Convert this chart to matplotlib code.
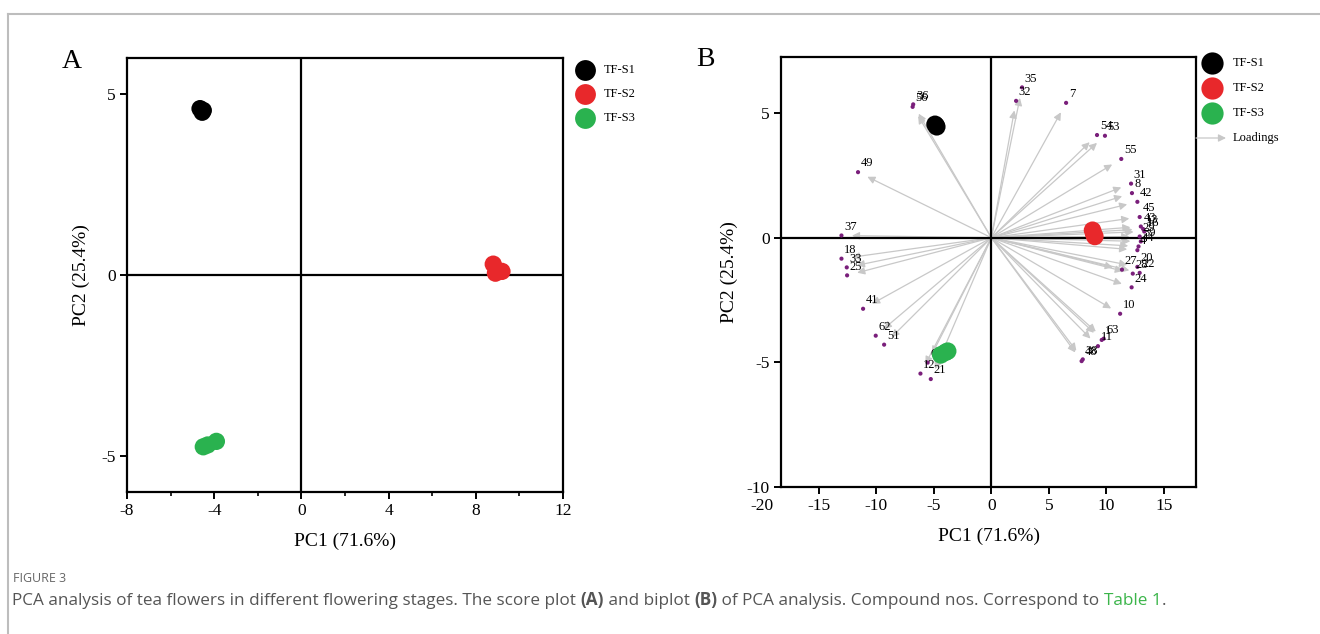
import matplotlib
matplotlib.use("Agg")
import matplotlib.pyplot as plt
import matplotlib.transforms as mtransforms
from matplotlib.lines import Line2D
from matplotlib.patches import FancyArrowPatch
from matplotlib.text import Annotation

plt.rcParams['font.family'] = ['Liberation Serif', 'DejaVu Serif']
plt.rcParams['axes.unicode_minus'] = False

W, H = 1320, 634

# ---------------- data ----------------
groups = ["TF-S1", "TF-S2", "TF-S3"]
group_colors = ["#000000", "#e8282b", "#2ab24f"]

# Panel A scores
a_s1_x = [-4.65, -4.55, -4.5]
a_s1_y = [4.6, 4.5, 4.55]
a_s2_x = [8.8, 8.9, 9.2]
a_s2_y = [0.3, 0.05, 0.1]
a_s3_x = [-4.5, -4.3, -3.9]
a_s3_y = [-4.75, -4.7, -4.6]

# Panel B scores
b_s1_x = [-4.9, -4.75, -4.8]
b_s1_y = [4.55, 4.45, 4.5]
b_s2_x = [8.8, 9.0, 8.9]
b_s2_y = [0.3, 0.05, 0.15]
b_s3_x = [-4.4, -4.0, -3.8]
b_s3_y = [-4.7, -4.6, -4.55]

# Panel B loadings
load_labels = ["35", "32", "7", "54", "53", "55", "31", "8", "42", "45", "43",
               "13", "16", "29", "39", "44", "4", "27", "20", "28", "22", "24",
               "10", "63", "1", "11", "38", "48",
               "36", "56", "49", "37", "18", "33", "25", "41", "62", "51",
               "61", "12", "21"]
load_x = [2.67, 2.15, 6.5, 9.19, 9.88, 11.3, 12.15, 12.23, 12.7, 12.9, 13.0,
          13.2, 13.3, 12.9, 13.0, 12.8, 12.7, 11.36, 12.7, 12.3, 12.9, 12.2,
          11.2, 9.77, 9.6, 9.27, 7.95, 7.85,
          -6.8, -6.85, -11.6, -13.04, -13.04, -12.58, -12.55, -11.16, -10.06, -9.33,
          -5.54, -6.17, -5.27]
load_y = [6.03, 5.49, 5.41, 4.12, 4.09, 3.16, 2.17, 1.79, 1.44, 0.83, 0.45,
          0.35, 0.25, 0.05, -0.15, -0.35, -0.5, -1.28, -1.17, -1.44, -1.41, -1.99,
          -3.05, -4.05, -4.1, -4.35, -4.88, -4.95,
          5.35, 5.25, 2.63, 0.09, -0.84, -1.19, -1.51, -2.85, -3.93, -4.29,
          -5.01, -5.45, -5.67]

b_xticks = [-15, -10, -5, 0, 5, 10, 15]
b_outer_tick = -20

caption_title = "FIGURE 3"
caption_pieces = [
    ("PCA analysis of tea flowers in different flowering stages. The score plot ", "normal", "#555555"),
    ("(A)", "bold", "#555555"),
    (" and biplot ", "normal", "#555555"),
    ("(B)", "bold", "#555555"),
    (" of PCA analysis. Compound nos. Correspond to ", "normal", "#555555"),
    ("Table 1", "normal", "#3bb54a"),
    (".", "normal", "#555555"),
]


def fx(px):
    return px / W


def fy(py):
    return 1 - py / H


fig = plt.figure(figsize=(W / 100, H / 100), dpi=100)

# page frame
fig.add_artist(Line2D([fx(8), fx(W)], [fy(14), fy(14)], color="#bdbdbd", lw=1.5))
fig.add_artist(Line2D([fx(8), fx(8)], [fy(14), fy(H)], color="#bdbdbd", lw=1.5))


def style_axes(ax):
    for s in ax.spines.values():
        s.set_linewidth(1.6)
        s.set_color("black")
    ax.tick_params(direction="out", length=5, width=1.4, labelsize=12.5, pad=3)
    ax.tick_params(which="minor", direction="out", length=3, width=1.2)


# ---------------- Panel A ----------------
axA = fig.add_axes([fx(127), fy(492), (563 - 127) / W, (492 - 58) / H])
style_axes(axA)
axA.set_xlim(-8, 12)
axA.set_ylim(-6, 6)
axA.set_xticks([-8, -4, 0, 4, 8, 12])
axA.set_xticks([-6, -2, 2, 6, 10], minor=True)
axA.set_yticks([5, 0, -5])
axA.axhline(0, color="black", lw=1.6, zorder=1)
axA.axvline(0, color="black", lw=1.6, zorder=1)
for xs, ys, c in [(a_s1_x, a_s1_y, group_colors[0]),
                  (a_s2_x, a_s2_y, group_colors[1]),
                  (a_s3_x, a_s3_y, group_colors[2])]:
    axA.scatter(xs, ys, s=155, color=c, edgecolors="none", zorder=3)
axA.set_xlabel("PC1 (71.6%)", fontsize=14, labelpad=10)
axA.set_ylabel("PC2 (25.4%)", fontsize=14, labelpad=8)
fig.text(fx(62), fy(62), "A", fontsize=20, va="center", ha="left")

# legend A (manual)
for i, (g, c) in enumerate(zip(groups, group_colors)):
    yy = 70 + 24 * i
    fig.add_artist(Line2D([fx(585)], [fy(yy)], marker="o", markersize=15,
                          color=c, markeredgewidth=0, linestyle="none"))
    fig.text(fx(604), fy(yy), g, fontsize=9, va="center", ha="left")

# ---------------- Panel B ----------------
axB = fig.add_axes([fx(781), fy(487), (1196 - 781) / W, (487 - 57) / H])
style_axes(axB)
axB.set_xlim(-18.3, 17.8)
axB.set_ylim(-10, 7.25)
axB.set_xticks(b_xticks)
axB.set_yticks([5, 0, -5, -10])
axB.axhline(0, color="black", lw=1.6, zorder=2)
axB.axvline(0, color="black", lw=1.6, zorder=2)

# outer tick label (lies left of the frame in the reference)
blend = mtransforms.blended_transform_factory(axB.transData, axB.transAxes)
lbl = axB.get_xticklabels()[0]
axB.text(b_outer_tick, 0, str(b_outer_tick), transform=blend,
         fontsize=12.5, ha="center", va="top", clip_on=False,
         transform_rotates_text=False)
# shift it down by the tick length + pad
axB.texts[-1].set_transform(blend + mtransforms.ScaledTranslation(0, -8 / 72, fig.dpi_scale_trans))

arrow_col = "#c8c8c8"
for lx, ly in zip(load_x, load_y):
    f = 0.93
    arr = FancyArrowPatch((0, 0), (lx * f, ly * f), arrowstyle="-|>",
                          mutation_scale=11, color=arrow_col, lw=0.9,
                          shrinkA=0, shrinkB=0, zorder=1)
    axB.add_patch(arr)
axB.scatter(load_x, load_y, s=9, color="#7a1f7b", edgecolors="none", zorder=4)
for lab, lx, ly in zip(load_labels, load_x, load_y):
    axB.annotate(lab, (lx, ly), xytext=(2, 2), textcoords="offset points",
                 fontsize=9, ha="left", va="bottom", zorder=5)

for xs, ys, c in [(b_s1_x, b_s1_y, group_colors[0]),
                  (b_s2_x, b_s2_y, group_colors[1]),
                  (b_s3_x, b_s3_y, group_colors[2])]:
    axB.scatter(xs, ys, s=160, color=c, edgecolors="none", zorder=6)

axB.set_xlabel("PC1 (71.6%)", fontsize=14, labelpad=10)
axB.set_ylabel("PC2 (25.4%)", fontsize=14, labelpad=6)
fig.text(fx(696), fy(60), "B", fontsize=20, va="center", ha="left")

# legend B (manual)
for i, (g, c) in enumerate(zip(groups, group_colors)):
    yy = 63 + 25 * i
    fig.add_artist(Line2D([fx(1212)], [fy(yy)], marker="o", markersize=16,
                          color=c, markeredgewidth=0, linestyle="none"))
    fig.text(fx(1233), fy(yy), g, fontsize=9, va="center", ha="left")
yy = 138
fig.add_artist(FancyArrowPatch((fx(1196), fy(yy)), (fx(1226), fy(yy)),
                               transform=fig.transFigure, arrowstyle="-|>",
                               mutation_scale=11, color=arrow_col, lw=0.9,
                               shrinkA=0, shrinkB=0))
fig.text(fx(1233), fy(yy), "Loadings", fontsize=9, va="center", ha="left")

# ---------------- Caption ----------------
cap_font = ['Open Sans', 'DejaVu Sans']
fig.text(fx(13), fy(578), caption_title, fontsize=9, color="#666666",
         family=cap_font, va="center", ha="left")

# fit the caption line to the reference width
renderer = fig.canvas.get_renderer()
base = 12.0
total = 0.0
for txt, wt, col in caption_pieces:
    t = fig.text(0, 0, txt, fontsize=base, fontweight=wt, family=cap_font)
    total += t.get_window_extent(renderer).width
    t.remove()
cap_size = base * (1144.0 / total)

prev = fig.text(fx(12), fy(605), caption_pieces[0][0], fontsize=cap_size,
                color=caption_pieces[0][2], fontweight=caption_pieces[0][1],
                family=cap_font, va="baseline", ha="left")
for txt, wt, col in caption_pieces[1:]:
    ann = Annotation(txt, xy=(1, 0), xycoords=prev, fontsize=cap_size,
                     color=col, fontweight=wt, family=cap_font,
                     va="bottom", ha="left")
    fig.add_artist(ann)
    prev = ann

fig.savefig("out.png", dpi=100)
